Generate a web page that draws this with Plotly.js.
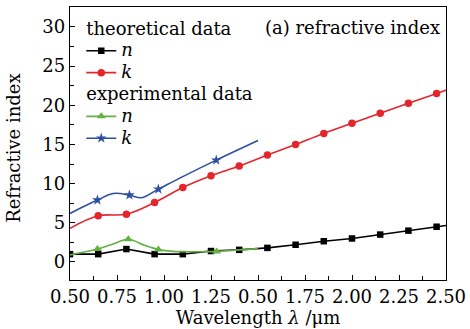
<!DOCTYPE html>
<html>
<head>
<meta charset="utf-8">
<script src="https://cdn.plot.ly/plotly-3.0.1.min.js"></script>
<style>html,body{margin:0;padding:0;background:#fff;}#chart{width:470px;height:329px;}</style>
</head>
<body>
<div id="chart"></div>
<script>
// Theoretical n (black squares)
const thN_x = [0.5, 0.65, 0.8, 0.95, 1.1, 1.25, 1.4, 1.55, 1.7, 1.85, 2.0, 2.15, 2.3, 2.45, 2.5];
const thN_y = [1.0, 1.0, 1.65, 1.0, 1.0, 1.4, 1.55, 1.8, 2.2, 2.65, 3.0, 3.5, 4.0, 4.5, 4.65];
const thN_mx = [0.5, 0.65, 0.8, 0.95, 1.1, 1.25, 1.4, 1.55, 1.7, 1.85, 2.0, 2.15, 2.3, 2.45];
const thN_my = [1.0, 1.0, 1.65, 1.0, 1.0, 1.4, 1.55, 1.8, 2.2, 2.65, 3.0, 3.5, 4.0, 4.5];
// Theoretical k (red circles)
const thK_x = [0.5, 0.65, 0.8, 0.95, 1.1, 1.25, 1.4, 1.55, 1.7, 1.85, 2.0, 2.15, 2.3, 2.45, 2.5];
const thK_y = [4.3, 5.9, 6.1, 7.6, 9.5, 11.0, 12.25, 13.65, 15.0, 16.4, 17.7, 19.0, 20.25, 21.5, 21.95];
const thK_mx = [0.65, 0.8, 0.95, 1.1, 1.25, 1.4, 1.55, 1.7, 1.85, 2.0, 2.15, 2.3, 2.45];
const thK_my = [5.9, 6.1, 7.6, 9.5, 11.0, 12.25, 13.65, 15.0, 16.4, 17.7, 19.0, 20.25, 21.5];
// Experimental n (green triangles)
const exN_x = [0.5, 0.646, 0.73, 0.81, 0.9, 0.97, 1.05, 1.15, 1.28, 1.4, 1.5];
const exN_y = [0.9, 1.65, 2.3, 2.9, 2.1, 1.6, 1.35, 1.3, 1.35, 1.55, 1.7];
const exN_mx = [0.646, 0.81, 0.97, 1.28];
const exN_my = [1.65, 2.9, 1.6, 1.35];
// Experimental k (blue stars)
const exK_x = [0.5, 0.646, 0.73, 0.816, 0.88, 0.97, 1.1, 1.278, 1.5];
const exK_y = [6.2, 7.9, 8.75, 8.55, 8.2, 9.3, 10.9, 13.0, 15.5];
const exK_mx = [0.646, 0.816, 0.97, 1.278];
const exK_my = [7.9, 8.55, 9.3, 13.0];

const xTickVals = [0.5, 0.75, 1.0, 1.25, 1.5, 1.75, 2.0, 2.25, 2.5];
const xTickText = ['0.50', '0.75', '1.00', '1.25', '0.50', '1.75', '2.00', '2.25', '2.50'];

const FONT = 'DejaVu Serif, Liberation Serif, serif';
const FS = 18;
const cBlack = '#000000', cRed = '#e4262c', cGreen = '#63b143', cBlue = '#2b4fa2';
const big = t => '<span style="font-size:' + FS + 'px">' + t + '</span>';

function series(x, y, mx, my, color, symbol, msize, shape, name, group, gtitle) {
  return [
    {x: x, y: y, mode: 'lines', type: 'scatter', line: {color: color, width: 1.6, shape: shape, smoothing: 1}, showlegend: false, hoverinfo: 'skip', legendgroup: group},
    {x: mx, y: my, mode: 'markers', type: 'scatter', marker: {color: color, symbol: symbol, size: msize}, showlegend: false, legendgroup: group},
    {x: [null], y: [null], mode: 'lines+markers', type: 'scatter', name: big(name), legendgroup: group,
     legendgrouptitle: gtitle ? {text: big(gtitle), font: {family: FONT, size: 14.5, color: '#000'}} : undefined,
     line: {color: color, width: 1.6}, marker: {color: color, symbol: symbol, size: msize}}
  ];
}

const data = [].concat(
  series(thN_x, thN_y, thN_mx, thN_my, cBlack, 'square', 6.5, 'linear', '<i>n</i>', 'th', 'theoretical data'),
  series(thK_x, thK_y, thK_mx, thK_my, cRed, 'circle', 7.5, 'spline', '<i>k</i>', 'th', null),
  series(exN_x, exN_y, exN_mx, exN_my, cGreen, 'triangle-up', 8, 'spline', '<i>n</i>', 'ex', 'experimental data'),
  series(exK_x, exK_y, exK_mx, exK_my, cBlue, 'star', 8, 'spline', '<i>k</i>', 'ex', null)
);

const layout = {
  width: 470, height: 329,
  margin: {l: 70, r: 24, t: 7, b: 49},
  paper_bgcolor: '#ffffff', plot_bgcolor: '#ffffff',
  font: {family: FONT, size: FS, color: '#000'},
  showlegend: true,
  legend: {x: 0.03, y: 0.978, xanchor: 'left', yanchor: 'top', bgcolor: 'rgba(0,0,0,0)', borderwidth: 0,
           font: {family: FONT, size: 14.5, color: '#000'}, itemwidth: 30, tracegroupgap: 0, traceorder: 'grouped', itemclick: false},
  xaxis: {
    range: [0.5, 2.5], tickmode: 'array', tickvals: xTickVals, ticktext: xTickText,
    ticks: 'inside', ticklen: 5, tickwidth: 1, tickcolor: '#000',
    showline: true, linecolor: '#000', linewidth: 1.2, mirror: true, showgrid: false, zeroline: false,
    minor: {tickmode: 'linear', tick0: 0.5, dtick: 0.125, ticks: 'inside', ticklen: 4, tickcolor: '#000', showgrid: false},
    tickfont: {family: FONT, size: FS, color: '#000'},
    title: {text: 'Wavelength <i>λ</i> /μm', font: {family: FONT, size: FS, color: '#000'}, standoff: 1}
  },
  yaxis: {
    range: [-2.3, 32.55], tickmode: 'linear', tick0: 0, dtick: 5,
    ticks: 'inside', ticklen: 5, tickwidth: 1, tickcolor: '#000',
    showline: true, linecolor: '#000', linewidth: 1.2, mirror: true, showgrid: false, zeroline: false,
    minor: {tickmode: 'linear', tick0: 0, dtick: 2.5, ticks: 'inside', ticklen: 4, tickcolor: '#000', showgrid: false},
    tickfont: {family: FONT, size: FS, color: '#000'}
  },
  annotations: [{
    text: '(a) refractive index', xref: 'paper', yref: 'paper', x: 0.99, y: 0.925,
    xanchor: 'right', yanchor: 'middle', showarrow: false, font: {family: FONT, size: FS, color: '#000'}
  }, {
    text: 'Refractive index', xref: 'paper', yref: 'paper', x: -0.149, y: 0.484, textangle: -90,
    xanchor: 'center', yanchor: 'middle', showarrow: false, font: {family: FONT, size: FS, color: '#000'}
  }]
};

Plotly.newPlot('chart', data, layout, {displayModeBar: false, staticPlot: true});
</script>
</body>
</html>
